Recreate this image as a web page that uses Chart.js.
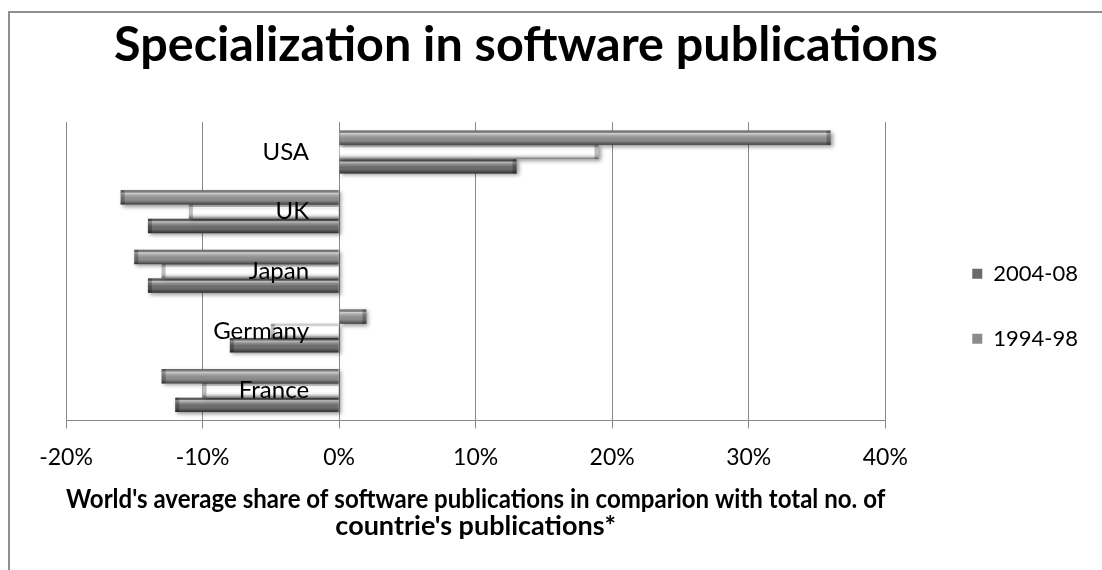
<!DOCTYPE html>
<html>
<head>
<meta charset="utf-8">
<title>Specialization in software publications</title>
<script src="https://cdn.jsdelivr.net/npm/chart.js@4.4.1/dist/chart.umd.min.js"></script>
<style>
  html, body { margin: 0; padding: 0; background: #fff; overflow: hidden; }
  .frame {
    position: absolute; left: 8px; top: 11px; width: 1200px; height: 700px;
    border-left: 2px solid #8f8f8f; border-top: 2px solid #8f8f8f;
  }
  /* canvas starts a little left of the window so the title centres over the whole chart object */
  #chart { position: absolute; left: -36px; top: 0; }
</style>
</head>
<body>
<div class="frame"></div>
<canvas id="chart" width="1138" height="570"></canvas>
<script>
// categories, top to bottom
const countries = ['USA', 'UK', 'Japan', 'Germany', 'France'];
// specialization (%) per country, one array per bar row
const period1994 = [36, -16, -15, 2, -13];
const middleRow = [19, -11, -13, -5, -10];
const period2004 = [13, -14, -14, -8, -12];
const xTicks = { min: -20, max: 40, step: 10 };

const FONT = 'Lato, "Open Sans", sans-serif';

// bevel-like shading + soft drop shadow for the bars
const bevelBars = {
  id: 'bevelBars',
  beforeDatasetsDraw(chart) {
    const c = chart.ctx;
    c.save();
    c.shadowColor = 'rgba(0,0,0,0.4)';
    c.shadowBlur = 4;
    c.shadowOffsetX = 2;
    c.shadowOffsetY = 2;
  },
  afterDatasetsDraw(chart) {
    const c = chart.ctx;
    c.restore();
    chart.data.datasets.forEach((ds, i) => {
      chart.getDatasetMeta(i).data.forEach(bar => {
        const { x, y, base, height } = bar.getProps(['x', 'y', 'base', 'height'], true);
        const left = Math.min(x, base);
        const w = Math.abs(x - base);
        const top = y - height / 2;
        const g = c.createLinearGradient(0, top, 0, top + height);
        g.addColorStop(0, 'rgba(0,0,0,0.35)');
        g.addColorStop(0.08, 'rgba(0,0,0,0.1)');
        g.addColorStop(0.2, 'rgba(255,255,255,0.6)');
        g.addColorStop(0.35, 'rgba(255,255,255,0.25)');
        g.addColorStop(0.55, 'rgba(255,255,255,0)');
        g.addColorStop(0.8, 'rgba(0,0,0,0.15)');
        g.addColorStop(1, 'rgba(0,0,0,0.55)');
        c.fillStyle = g;
        c.fillRect(left, top, w, height);
        // darker cap at the value end
        const capW = Math.min(4, w);
        c.fillStyle = 'rgba(0,0,0,0.25)';
        c.fillRect(x >= base ? x - capW : x, top, capW, height);
      });
    });
  }
};

new Chart(document.getElementById('chart'), {
  type: 'bar',
  data: {
    labels: countries,
    datasets: [
      { label: '1994-98', data: period1994, backgroundColor: '#8c8c8c' },
      { label: '', data: middleRow, backgroundColor: '#ffffff' },
      { label: '2004-08', data: period2004, backgroundColor: '#6a6a6a' }
    ]
  },
  options: {
    indexAxis: 'y',
    responsive: false,
    animation: false,
    categoryPercentage: 0.72,
    barPercentage: 1,
    layout: { padding: { top: 0, left: 0, right: 14, bottom: 26 } },
    scales: {
      x: {
        min: xTicks.min,
        max: xTicks.max,
        ticks: {
          stepSize: xTicks.step,
          callback: v => v + '%',
          color: '#000',
          font: { family: FONT, size: 23 },
          padding: 15,
          maxRotation: 0
        },
        grid: { color: '#888', tickLength: 8 },
        border: { color: '#888' },
        title: {
          display: true,
          text: ["World's average share of software publications in comparion with total no. of", "countrie's publications*"],
          color: '#000',
          font: { family: FONT, size: 27, weight: 'bold', lineHeight: '27px' },
          padding: { top: 0, bottom: 4 }
        },
        afterFit(s) { s.paddingLeft = 102; }
      },
      y: {
        type: 'category',
        position: { x: 0 },
        grid: { display: false, drawTicks: false },
        border: { display: true, color: '#888' },
        ticks: {
          z: 1,
          color: '#000',
          font: { family: FONT, size: 24 },
          autoSkip: false,
          // keep the country names a little clear of the zero line
          callback(value) { return this.getLabelForValue(value) + '\u2003\u2002'; }
        }
      },
      gap: {
        axis: 'y',
        type: 'category',
        position: 'right',
        grid: { display: false, drawTicks: false },
        border: { display: false },
        ticks: { display: false },
        afterFit(s) { s.width = 44; }
      }
    },
    plugins: {
      title: {
        display: true,
        text: 'Specialization in software publications',
        color: '#000',
        font: { family: FONT, size: 48.5, weight: 'bold' },
        padding: { top: 16, bottom: 48 }
      },
      legend: {
        position: 'right',
        reverse: true,
        title: { display: true, text: '', font: { size: 12 }, padding: { top: 0, bottom: 54 } },
        labels: {
          color: '#000',
          font: { family: FONT, size: 22 },
          boxWidth: 10,
          boxHeight: 10,
          padding: 43,
          filter: item => item.text !== ''
        }
      },
      tooltip: { enabled: false }
    }
  },
  plugins: [bevelBars]
});
</script>
</body>
</html>
